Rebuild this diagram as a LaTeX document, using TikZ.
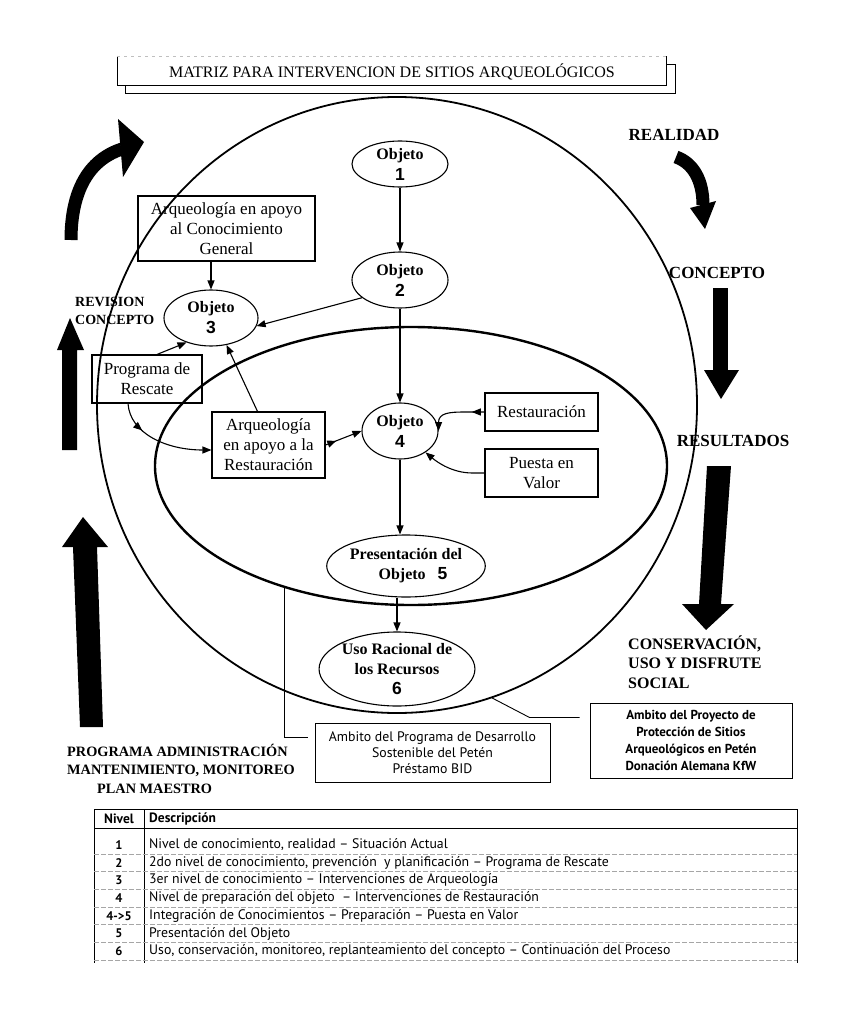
\documentclass[tikz,border=0pt]{standalone}
\usepackage{fontspec}
\setmainfont{Liberation Serif}
\setsansfont{PT Sans}
\newfontfamily\arialf{Liberation Sans}
\usetikzlibrary{shapes.geometric,arrows.meta,decorations.markings,calc}
\begin{document}
\begin{tikzpicture}[x=1pt,y=-1pt,
  arr/.style={-{Triangle[length=9pt,width=7pt]}},
  ln/.style={line width=1.1pt},
  midtip/.style={postaction={decorate},decoration={markings,mark=at position #1 with {\arrow{Triangle[length=9pt,width=7pt]}}}},
  obj/.style={draw,ellipse,line width=1.1pt,inner sep=0pt,align=center,font=\fontsize{16}{21}\selectfont\bfseries},
  box/.style={draw,rectangle,line width=1.1pt,inner sep=0pt,align=center,font=\fontsize{17}{20}\selectfont},
  lbl/.style={inner sep=0pt,font=\fontsize{17}{19.5}\selectfont\bfseries},
  lbls/.style={inner sep=0pt,align=left,font=\fontsize{14.3}{18.5}\selectfont\bfseries},
  tabt/.style={inner sep=0pt,anchor=west,font=\sffamily\fontsize{13.8}{14}\selectfont},
  tabn/.style={inner sep=0pt,font=\sffamily\bfseries\fontsize{12.5}{13}\selectfont},
  sep/.style={gray!70,line width=0.6pt,dash pattern=on 5pt off 2pt}
]
\newcommand\numtxt[1]{{\arialf\bfseries\fontsize{17.5}{18}\selectfont #1}}
\useasboundingbox (0,0) rectangle (849,1024);
\fill[white] (0,0) rectangle (849,1024);

% title
\draw[line width=1pt] (125,65) rectangle (675,94);
\fill[white] (117,56) rectangle (666,86);
\draw[line width=1pt] (117,56) -- (117,86) -- (666,86) -- (666,56);
\draw[gray!50,line width=0.6pt,dash pattern=on 3pt off 4pt] (117,56) -- (666,56);
\node[inner sep=0pt,font=\fontsize{16}{16}\selectfont] (title) at (392,72) {MATRIZ PARA INTERVENCION DE SITIOS ARQUEOLÓGICOS};

% big ellipses
\node[draw,ellipse,line width=1.8pt,minimum width=600pt,minimum height=616pt,inner sep=0pt] (outer) at (397,405) {};
\node[draw,ellipse,line width=2.4pt,minimum width=512pt,minimum height=278pt,inner sep=0pt] (inner) at (411,466) {};

% objects
\node[obj,minimum width=96pt,minimum height=46pt] (o1) at (400,164) {Objeto\\\numtxt{1}};
\node[obj,minimum width=96pt,minimum height=56pt] (o2) at (400,280) {Objeto\\\numtxt{2}};
\node[obj,minimum width=94pt,minimum height=56pt] (o3) at (211,318) {Objeto\\\numtxt{3}};
\node[obj,minimum width=76pt,minimum height=56pt] (o4) at (400,431) {Objeto\\\numtxt{4}};
\node[obj,minimum width=142pt,minimum height=62pt,font=\fontsize{16}{20}\selectfont\bfseries] (o5) at (406,566) {Presentación del\\\hspace*{14pt}Objeto\hspace{12pt}\numtxt{5}};
\node[obj,minimum width=138pt,minimum height=74pt,font=\fontsize{16}{20}\selectfont\bfseries] (o6) at (397,669) {Uso Racional de\\los Recursos\\\numtxt{6}};

% boxes
\node[box,minimum width=177pt,minimum height=65pt] (arqC) at (226.5,228.5) {Arqueología en apoyo\\al Conocimiento\\General};
\node[box,minimum width=110pt,minimum height=48pt] (prog) at (147,379) {Programa de\\Rescate};
\node[box,minimum width=113pt,minimum height=66pt] (arqR) at (268.5,445) {Arqueología\\en apoyo a la\\Restauración};
\node[box,minimum width=113pt,minimum height=38pt] (rest) at (541.5,412) {Restauración};
\node[box,minimum width=113pt,minimum height=48pt] (puesta) at (541.5,473) {Puesta en\\Valor};
\node[box,line width=0.9pt,font=\sffamily\fontsize{13.8}{16}\selectfont,minimum width=235pt,minimum height=59pt] (amb1) at (432.5,752.5) {Ambito del Programa de Desarrollo\\Sostenible del Petén\\Préstamo BID};
\node[box,line width=0.9pt,font=\sffamily\bfseries\fontsize{13}{16.7}\selectfont,minimum width=202pt,minimum height=75pt] (amb2) at (691,740.5) {Ambito del Proyecto de\\Protección de Sitios\\Arqueológicos en Petén\\Donación Alemana KfW};

% connectors
\draw[ln,arr] (o1) -- (o2);
\draw[ln,arr] (o2) -- (o4);
\draw[ln,arr] (o4.south) -- (o4.south |- o5.north);
\draw[ln,arr] (o6.north |- o5.south) -- (o6.north);
\draw[ln,arr] (arqC.south -| o3.north) -- (o3.north);
\draw[ln,arr] (o2.205) -- (o3.-10);
\draw[ln,arr] ([xshift=10pt]prog.north) -- (o3.225);
\draw[ln,arr] ([xshift=-11pt]arqR.north) -- (o3.-60);
\draw[ln,arr,midtip=0.3] ([xshift=-19pt]prog.south) .. controls +(2,30) and +(-45,0) .. ([yshift=-5pt]arqR.west);
\draw[ln,arr,midtip=0.3] (arqR.east) -- (o4.west);
\draw[ln,arr,midtip=0.22] (rest.west) -- ++(-20,0) .. controls +(-15,0) and +(0,-18) .. (o4.east);
\draw[ln,arr] (puesta.west) -- ++(-12,0) .. controls +(-20,0) and +(12,10) .. (o4.-40);
\draw[line width=0.9pt] (inner.224) |- ([xshift=-7pt,yshift=15pt]amb1.west);
\draw[line width=0.9pt] (outer.-72.5) -- ([xshift=-60pt,yshift=23pt]amb2.west) -- ([xshift=-10pt,yshift=23pt]amb2.west);

% thick arrows
\draw[line width=13pt] (71,240) .. controls (71,192) and (88,160) .. (122,149);
\fill (118,119) -- (144,142) -- (123,177) -- cycle;
\draw[line width=13pt] (676,157) .. controls (693,163) and (703,180) .. (703,205);
\fill (690,208) -- (716,201) -- (705,229) -- cycle;
\fill (713,288) rectangle (728,370);
\fill (704,370) -- (739,370) -- (721,399) -- cycle;
\fill (707,466) -- (731,466) -- (721,604) -- (734,604) -- (706,630) -- (682,604) -- (699,604) -- cycle;
\fill (62,450) -- (62,350) -- (57,350) -- (70,318) -- (84,350) -- (77,350) -- (77,450) -- cycle;
\fill (80,727) -- (73,547) -- (62,547) -- (83,517) -- (108,547) -- (97,547) -- (103,727) -- cycle;

% labels
\node[lbl] (realidad) at (674,135) {REALIDAD};
\node[lbl] (concepto) at (717,273) {CONCEPTO};
\node[lbl] (result) at (733,441) {RESULTADOS};
\node[lbl,anchor=west,align=left,font=\fontsize{16}{19.5}\selectfont\bfseries] (conserv) at (628,662) {CONSERVACIÓN,\\USO Y DISFRUTE\\SOCIAL};
\node[lbls,anchor=west,font=\fontsize{14}{18}\selectfont\bfseries] (revision) at (75,311) {REVISION\\CONCEPTO};
\node[lbls,anchor=west] (progadm) at (67,768.5) {PROGRAMA ADMINISTRACIÓN\\MANTENIMIENTO, MONITOREO\\\hspace*{30pt}PLAN MAESTRO};

% table
\draw[line width=0.9pt] (94,809) -- (797,809);
\draw[line width=0.9pt] (94,828) -- (797,828);
\draw[line width=0.9pt] (94,809) -- (94,963);
\draw[line width=0.9pt] (144,809) -- (144,963);
\draw[line width=0.9pt] (797,809) -- (797,963);
\foreach \yy in {853.8,871.5,889.2,906.9,924.6,942.3,960} {\draw[sep] (94,\yy) -- (797,\yy);}
\node[tabn,font=\sffamily\bfseries\fontsize{13.5}{14}\selectfont] (hn) at (119,819) {Nivel};
\node[tabt,font=\sffamily\bfseries\fontsize{13.5}{14}\selectfont] (hd) at (149,819) {Descripción};
\node[tabn] (n1) at (119,845) {1};
\node[tabt] (d1) at (149,845) {Nivel de conocimiento, realidad – Situación Actual};
\node[tabn] (n2) at (119,862.7) {2};
\node[tabt] (d2) at (149,862.7) {2do nivel de conocimiento, prevención\ \ y planificación – Programa de Rescate};
\node[tabn] (n3) at (119,880.4) {3};
\node[tabt] (d3) at (149,880.4) {3er nivel de conocimiento – Intervenciones de Arqueología};
\node[tabn] (n4) at (119,898.1) {4};
\node[tabt] (d4) at (149,898.1) {Nivel de preparación del objeto\ \ – Intervenciones de Restauración};
\node[tabn] (n45) at (119,915.8) {4->5};
\node[tabt] (d45) at (149,915.8) {Integración de Conocimientos – Preparación – Puesta en Valor};
\node[tabn] (n5) at (119,933.5) {5};
\node[tabt] (d5) at (149,933.5) {Presentación del Objeto};
\node[tabn] (n6) at (119,951.2) {6};
\node[tabt] (d6) at (149,951.2) {Uso, conservación, monitoreo, replanteamiento del concepto – Continuación del Proceso};
\end{tikzpicture}
\end{document}
